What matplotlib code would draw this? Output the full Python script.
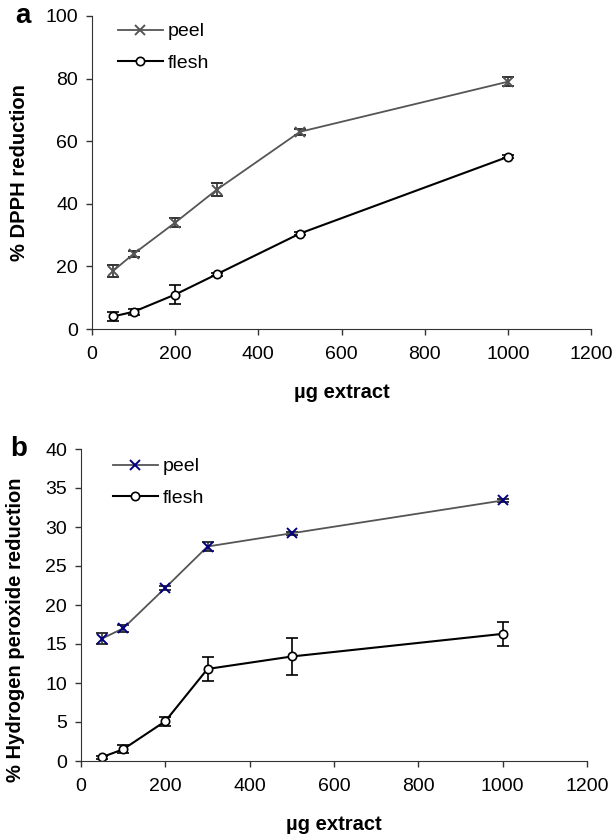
import numpy as np
import matplotlib.pyplot as plt
from matplotlib.lines import Line2D

plt.rcParams['font.family'] = ['Liberation Sans', 'DejaVu Sans']

doses = [50, 100, 200, 300, 500, 1000]

# panel a - DPPH
dpph_peel = [18.5, 24, 34, 44.5, 63, 79]
dpph_peel_err = [2, 1, 1.5, 2, 1, 1.5]
dpph_flesh = [4, 5.5, 11, 17.5, 30.5, 55]
dpph_flesh_err = [1.5, 1, 3, 0.5, 0.5, 0.5]

# panel b - hydrogen peroxide
h2o2_peel = [15.7, 17, 22.2, 27.5, 29.2, 33.4]
h2o2_peel_err = [0.7, 0.4, 0.3, 0.6, 0.2, 0.2]
h2o2_flesh = [0.5, 1.5, 5.1, 11.8, 13.4, 16.3]
h2o2_flesh_err = [0.2, 0.5, 0.6, 1.5, 2.4, 1.5]

W, H = 616, 835
fig = plt.figure(figsize=(W / 100, H / 100), dpi=100)
ax1 = fig.add_axes([92 / W, 1 - 329 / H, 499 / W, 313 / H])
ax2 = fig.add_axes([81 / W, 1 - 761 / H, 506 / W, 312 / H])


def draw(ax, peel, peel_err, flesh, flesh_err, peel_mc, ylim, yticks, ylabel,
         tag, tag_x, ylab_x, ylab_y, leg_x, leg_y):
    ax.errorbar(doses, peel, yerr=peel_err, color='#555555', lw=1.3, marker='x',
                ms=7, mec=peel_mc, mew=1.4, ecolor='#333333', elinewidth=1.2,
                capsize=4, capthick=1.2)
    ax.errorbar(doses, flesh, yerr=flesh_err, color='black', lw=1.5, marker='o',
                ms=6, mfc='white', mec='black', mew=1.2, ecolor='black',
                elinewidth=1.2, capsize=4, capthick=1.2)
    ax.set_xlim(0, 1200)
    ax.set_ylim(*ylim)
    ax.set_xticks(range(0, 1201, 200))
    ax.set_yticks(yticks)
    ax.spines['top'].set_visible(False)
    ax.spines['right'].set_visible(False)
    for s in ('left', 'bottom'):
        ax.spines[s].set_color('#333333')
    ax.tick_params(labelsize=14, length=4, width=1, color='#333333')
    ax.tick_params(axis='x', pad=8)
    ax.tick_params(axis='y', pad=6)
    ax.set_xlabel('\u00b5g extract', fontsize=14.5, fontweight='bold', labelpad=15)
    ax.set_ylabel(ylabel, fontsize=14.5, fontweight='bold')
    ax.yaxis.set_label_coords(ylab_x, ylab_y)
    handles = [
        Line2D([], [], color='#555555', lw=1.3, marker='x', ms=7,
               mec=peel_mc, mew=1.4),
        Line2D([], [], color='black', lw=1.5, marker='o', ms=6,
               mfc='white', mec='black', mew=1.2),
    ]
    ax.legend(handles, ['peel', 'flesh'], loc='upper left',
              bbox_to_anchor=(leg_x, leg_y), frameon=False, fontsize=14,
              handlelength=2.3, handletextpad=0.25, labelspacing=0.7,
              borderpad=0, borderaxespad=0)
    ax.text(tag_x, 1.0, tag, transform=ax.transAxes, fontsize=20,
            fontweight='bold', va='center', ha='left')


draw(ax1, dpph_peel, dpph_peel_err, dpph_flesh, dpph_flesh_err, '#555555',
     (0, 100), range(0, 101, 20), '% DPPH reduction', 'a', -0.154, -0.126,
     0.5, 0.052, 0.978)
draw(ax2, h2o2_peel, h2o2_peel_err, h2o2_flesh, h2o2_flesh_err, '#000080',
     (0, 40), range(0, 41, 5), '% Hydrogen peroxide reduction', 'b', -0.14,
     -0.111, 0.42, 0.063, 0.972)

fig.savefig('out.png', dpi=100)
